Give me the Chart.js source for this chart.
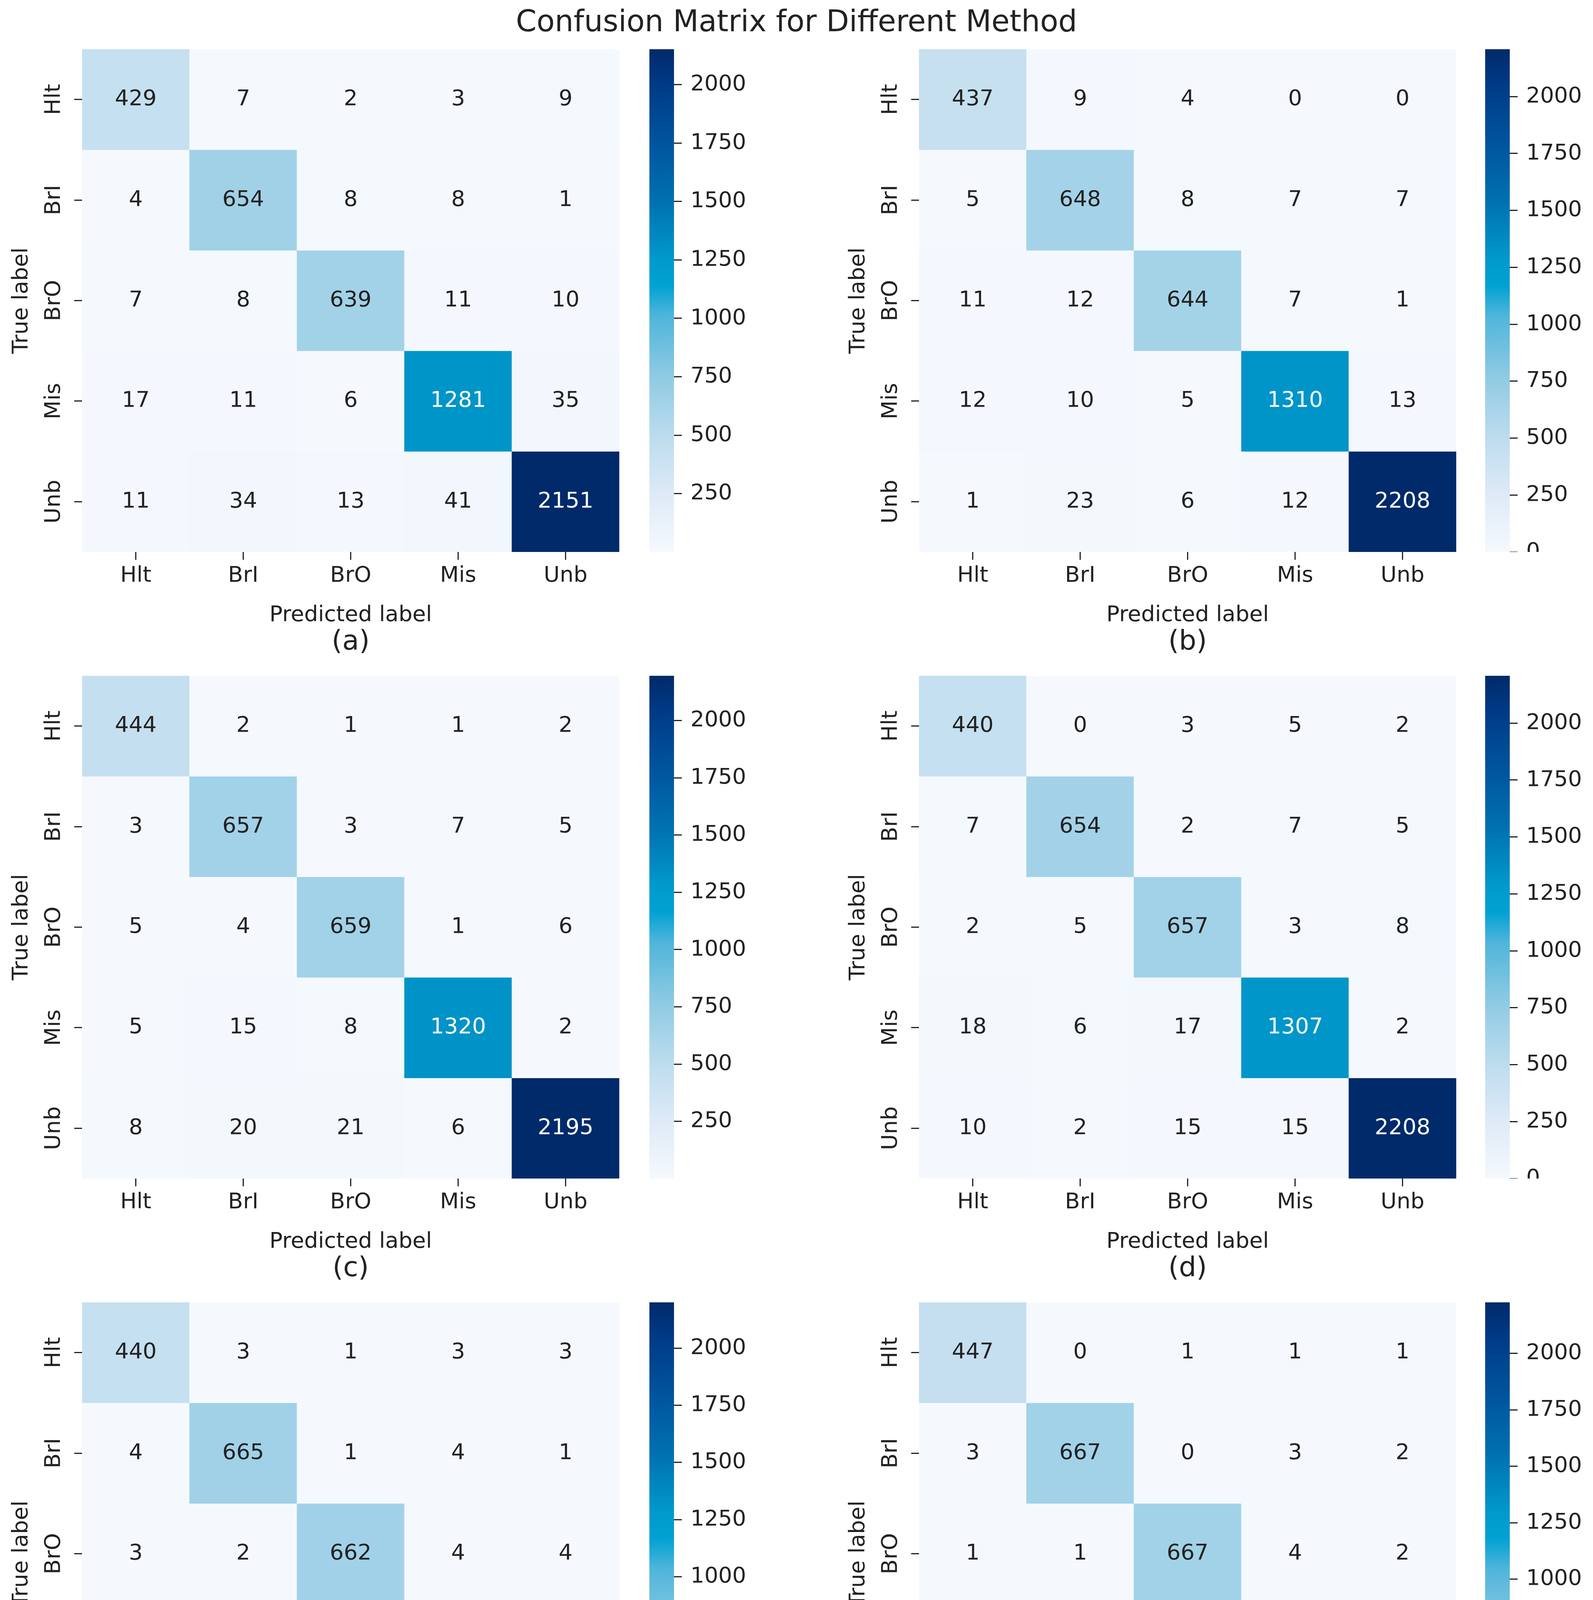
<!DOCTYPE html>
<html>
<head>
<meta charset="utf-8">
<script src="https://cdn.jsdelivr.net/npm/chart.js@4.4.1/dist/chart.umd.min.js"></script>
<style>
  body { margin: 0; background: #fff; width: 4077px; height: 4924px; position: relative; font-family: 'DejaVu Sans', sans-serif; color: #222; }
  .box { position: absolute; }
  .cap { position: absolute; width: 400px; margin-left: -200px; text-align: center; font-size: 70px; line-height: 80px; }
  #title { position: absolute; left: 0; width: 4077px; top: 12px; text-align: center; font-size: 76px; line-height: 84px; }
</style>
</head>
<body>
<div id="title">Confusion Matrix for Different Method</div>
<script>
// class names
const classes = ['Hlt', 'BrI', 'BrO', 'Mis', 'Unb'];

// confusion matrices, rows = true label, cols = predicted label
const matA = [[429, 7, 2, 3, 9], [4, 654, 8, 8, 1], [7, 8, 639, 11, 10], [17, 11, 6, 1281, 35], [11, 34, 13, 41, 2151]];
const matB = [[437, 9, 4, 0, 0], [5, 648, 8, 7, 7], [11, 12, 644, 7, 1], [12, 10, 5, 1310, 13], [1, 23, 6, 12, 2208]];
const matC = [[444, 2, 1, 1, 2], [3, 657, 3, 7, 5], [5, 4, 659, 1, 6], [5, 15, 8, 1320, 2], [8, 20, 21, 6, 2195]];
const matD = [[440, 0, 3, 5, 2], [7, 654, 2, 7, 5], [2, 5, 657, 3, 8], [18, 6, 17, 1307, 2], [10, 2, 15, 15, 2208]];
const matE = [[440, 3, 1, 3, 3], [4, 665, 1, 4, 1], [3, 2, 662, 4, 4], [4, 0, 8, 1329, 9], [15, 12, 18, 4, 2201]];
const matF = [[447, 0, 1, 1, 1], [3, 667, 0, 3, 2], [1, 1, 667, 4, 2], [5, 1, 1, 1340, 3], [12, 0, 8, 4, 2226]];

const panelLetters = ['(a)', '(b)', '(c)', '(d)', '(e)', '(f)'];
const cbarTicksA = [250, 500, 750, 1000, 1250, 1500, 1750, 2000];
const cbarTicksZ = [0, 250, 500, 750, 1000, 1250, 1500, 1750, 2000];

// colour map (close to the picture's blues)
const cmap = [
  [0.00, [245, 249, 254]], [0.12, [221, 233, 246]], [0.23, [188, 220, 238]],
  [0.35, [142, 202, 227]], [0.47, [79, 181, 219]], [0.53, [0, 162, 210]],
  [0.58, [0, 154, 204]], [0.70, [0, 112, 176]], [0.81, [0, 85, 159]],
  [0.93, [0, 58, 134]], [1.00, [0, 42, 106]]
];

function colorAt(t) {
  t = Math.max(0, Math.min(1, t));
  for (let i = 1; i < cmap.length; i++) {
    if (t <= cmap[i][0]) {
      const [t0, c0] = cmap[i - 1];
      const [t1, c1] = cmap[i];
      const f = (t - t0) / (t1 - t0);
      const c = c0.map((v, k) => Math.round(v + (c1[k] - v) * f));
      return `rgb(${c[0]},${c[1]},${c[2]})`;
    }
  }
  return 'rgb(0,42,106)';
}

const FONT = "'DejaVu Sans', sans-serif";
const TXT = '#222';
const CELL_W = 1375, CELL_H = 1287, YAXIS_W = 210, XAXIS_H = 200;

function addBox(left, top, w, h) {
  const div = document.createElement('div');
  div.className = 'box';
  div.style.left = left + 'px';
  div.style.top = top + 'px';
  div.style.width = w + 'px';
  div.style.height = h + 'px';
  const canvas = document.createElement('canvas');
  div.appendChild(canvas);
  document.body.appendChild(div);
  return canvas;
}

// numbers inside cells + rotated y tick labels
const heatText = {
  id: 'heatText',
  afterDatasetsDraw(chart) {
    const { ctx } = chart;
    const vmax = chart.options.plugins.heatText.vmax;
    ctx.save();
    ctx.font = `56px ${FONT}`;
    ctx.textAlign = 'center';
    ctx.textBaseline = 'middle';
    chart.data.datasets.forEach((ds, i) => {
      chart.getDatasetMeta(i).data.forEach((bar, j) => {
        const v = ds.values[j];
        ctx.fillStyle = v > vmax / 2 ? '#fff' : TXT;
        ctx.fillText(String(v), bar.x, (bar.y + bar.base) / 2);
      });
    });
    const ys = chart.scales.y;
    ctx.fillStyle = TXT;
    classes.forEach((name, i) => {
      const y = ys.getPixelForValue(i + 0.5);
      ctx.save();
      ctx.translate(chart.chartArea.left - 72, y);
      ctx.rotate(-Math.PI / 2);
      ctx.fillText(name, 0, 0);
      ctx.restore();
    });
    ctx.restore();
  }
};

function drawPanel(mat, idx, ticks) {
  const col = idx % 2, row = Math.floor(idx / 2);
  const hx = col === 0 ? 210 : 2352;
  const hy = 126 + row * 1604;
  const flat = mat.flat();
  const vmin = Math.min(...flat), vmax = Math.max(...flat);

  const canvas = addBox(hx - YAXIS_W, hy, YAXIS_W + CELL_W, CELL_H + XAXIS_H);
  new Chart(canvas, {
    type: 'bar',
    data: {
      labels: classes,
      datasets: mat.map(r => ({
        data: r.map(() => 1),
        values: r,
        backgroundColor: r.map(v => colorAt((v - vmin) / (vmax - vmin))),
        borderWidth: 0,
        barPercentage: 1,
        categoryPercentage: 1,
      })),
    },
    options: {
      responsive: true,
      maintainAspectRatio: false,
      animation: false,
      devicePixelRatio: 1,
      layout: { padding: 0 },
      plugins: { legend: { display: false }, tooltip: { enabled: false }, heatText: { vmax } },
      scales: {
        x: {
          stacked: true,
          grid: { offset: false, drawOnChartArea: false, drawTicks: true, tickLength: 20, tickColor: TXT, tickWidth: 3 },
          border: { display: false },
          ticks: { color: TXT, font: { size: 56, family: FONT }, padding: 8, maxRotation: 0 },
          title: { display: true, text: 'Predicted label', color: TXT, font: { size: 56, family: FONT }, padding: { top: 0 } },
          afterFit: (s) => { s.height = XAXIS_H; s.paddingLeft = 0; s.paddingRight = 0; },
        },
        y: {
          type: 'linear', stacked: true, min: 0, max: 5, reverse: true,
          afterBuildTicks: (s) => { s.ticks = classes.map((_, i) => ({ value: i + 0.5 })); },
          grid: { drawOnChartArea: false, drawTicks: true, tickLength: 20, tickColor: TXT, tickWidth: 3 },
          border: { display: false },
          ticks: { display: false },
          title: { display: true, text: 'True label', color: TXT, font: { size: 56, family: FONT }, padding: { top: 22, bottom: 0 } },
          afterFit: (s) => { s.width = YAXIS_W; s.paddingTop = 0; s.paddingBottom = 0; },
        },
      },
    },
    plugins: [heatText],
  });

  // colour bar
  const cx = col === 0 ? 1662 : 3801;
  const cbar = addBox(cx, hy, 330, CELL_H);
  new Chart(cbar, {
    type: 'bar',
    data: {
      labels: [''],
      datasets: [{
        data: [[vmin, vmax]],
        borderWidth: 0,
        barPercentage: 1,
        categoryPercentage: 1,
        backgroundColor: (c) => {
          const a = c.chart.chartArea;
          if (!a) return '#fff';
          const g = c.chart.ctx.createLinearGradient(0, a.bottom, 0, a.top);
          cmap.forEach(([t]) => g.addColorStop(t, colorAt(t)));
          return g;
        },
      }],
    },
    options: {
      responsive: true,
      maintainAspectRatio: false,
      animation: false,
      devicePixelRatio: 1,
      layout: { padding: 0 },
      plugins: { legend: { display: false }, tooltip: { enabled: false } },
      scales: {
        x: { display: false },
        y: {
          position: 'right', min: vmin, max: vmax,
          afterBuildTicks: (s) => { s.ticks = ticks.map(v => ({ value: v })); },
          grid: { drawOnChartArea: false, drawTicks: true, tickLength: 20, tickColor: TXT, tickWidth: 3 },
          border: { display: false },
          ticks: { color: TXT, font: { size: 56, family: FONT }, padding: 22, callback: (v) => String(v) },
          afterFit: (s) => { s.width = 330 - 63; s.paddingTop = 0; s.paddingBottom = 0; },
        },
      },
    },
  });

  const cap = document.createElement('div');
  cap.className = 'cap';
  cap.textContent = panelLetters[idx];
  cap.style.left = (hx + CELL_W / 2) + 'px';
  cap.style.top = (hy + CELL_H + 186) + 'px';
  document.body.appendChild(cap);
}

drawPanel(matA, 0, cbarTicksA);
drawPanel(matB, 1, cbarTicksZ);
drawPanel(matC, 2, cbarTicksA);
drawPanel(matD, 3, cbarTicksZ);
drawPanel(matE, 4, cbarTicksZ);
drawPanel(matF, 5, cbarTicksZ);
</script>
</body>
</html>
